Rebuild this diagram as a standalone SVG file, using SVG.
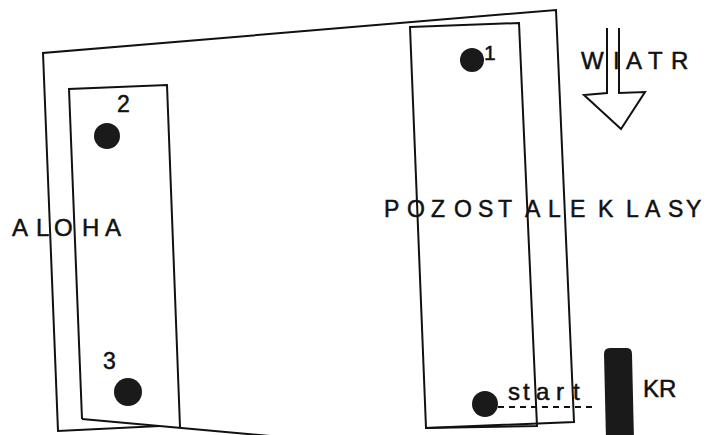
<svg xmlns="http://www.w3.org/2000/svg" width="710" height="435" viewBox="0 0 710 435">
<style>
.ln{fill:none;stroke:#111;stroke-width:2;stroke-linejoin:miter}
.mk{fill:#1a1a1a}
.t{font-family:"Liberation Sans",Arial,sans-serif;fill:#111;stroke:#111;stroke-width:0.5}
</style>
<rect width="710" height="435" fill="#fff"/>
<g id="course-outer">
<polyline class="ln" points="160,426 58,431 43,53 556,10 574,422 426,428"/>
</g>
<g id="aloha-area">
<polyline class="ln" points="82,419 69,89 167,85 180,427"/>
<line class="ln" x1="82" y1="419" x2="292" y2="438"/>
<text class="t" font-size="24" x="12 36 54 82 105" y="236">ALOHA</text>
</g>
<g id="others-area">
<polygon class="ln" points="410,27 519,23 537,426 426,428"/>
<text class="t" font-size="23" x="384 407 431 454 478 498 525 548 570 590 598 626 645 668 686" y="217">POZOSTALE KLASY</text>
</g>
<g id="mark-1">
<circle class="mk" cx="472" cy="60" r="12"/>
<text class="t" font-size="21" x="484" y="60">1</text>
</g>
<g id="mark-2">
<circle class="mk" cx="107" cy="136" r="13"/>
<text class="t" font-size="23" x="117" y="112">2</text>
</g>
<g id="mark-3">
<circle class="mk" cx="128" cy="392" r="14"/>
<text class="t" font-size="23" x="103" y="369">3</text>
</g>
<g id="start-mark">
<circle class="mk" cx="485" cy="404" r="13"/>
<text class="t" font-size="24" x="508 523 536 556 573" y="400">start</text>
</g>
<g id="committee-boat">
<path class="mk" d="M610,348 H627 Q632,348 632,354 L634,440 H606 L604,354 Q604,348 610,348 Z"/>
<text class="t" font-size="24" x="643" y="397">KR</text>
</g>
<g id="wind">
<path class="ln" d="M607,28 V93 L584,95 L621,129 L645,92 L619,93 V28"/>
<text class="t" font-size="24" x="581 613 626 648 671" y="69">WIATR</text>
</g>
<g id="connectors">
<line class="ln" x1="498" y1="407" x2="597" y2="407" stroke-dasharray="6 5" stroke-width="1.6"/>
</g>
</svg>
